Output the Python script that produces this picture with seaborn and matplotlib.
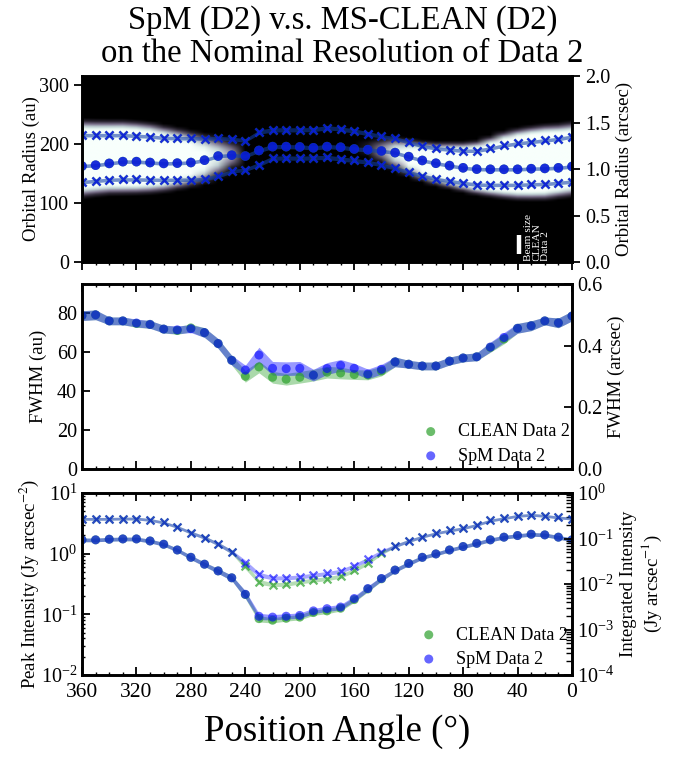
import numpy as np
import pandas as pd
import matplotlib
matplotlib.use("Agg")
import matplotlib.pyplot as plt
import seaborn as sns
from matplotlib.colors import LinearSegmentedColormap, Normalize
from matplotlib.ticker import MultipleLocator, LogLocator, NullFormatter

# ---------------- data ----------------
pa = [360, 350, 340, 330, 320, 310, 300, 290, 280, 270, 260, 250, 240, 230, 220, 210,
      200, 190, 180, 170, 160, 150, 140, 130, 120, 110, 100, 90, 80, 70, 60, 50, 40,
      30, 20, 10, 0]

# orbital radius (au): peak and half-maximum edges
radius_peak = [163, 164.5, 167.5, 170.5, 170.5, 169, 167.5, 168, 169, 173, 180, 181.5,
               180, 189.5, 196, 196, 195.5, 194, 196, 195, 192, 190.8, 188.6, 185.8,
               179, 172.5, 167.8, 163.8, 160, 157.8, 157.5, 157.5, 157.5, 158.5, 159,
               160, 162.3]
radius_outer = [215.5, 215.5, 215.5, 215.5, 214.3, 213.2, 210.9, 210.3, 210.3, 209.8,
                210.3, 209.2, 206.4, 220.5, 224.5, 224.5, 224.5, 225, 228, 226, 222.5,
                218, 213.5, 210, 203.5, 197, 193, 191, 189, 189, 193, 198, 201.5, 204,
                206.5, 209, 213]
radius_inner = [135.8, 137.8, 139.8, 140.2, 140.2, 139.8, 139.5, 139.8, 139.8, 141, 146,
                154, 156.8, 165.5, 176.3, 176.8, 176.3, 177, 177.8, 175, 172.5, 169.5,
                165, 159.5, 152.5, 146.5, 141, 137.5, 134.3, 131.5, 131, 131, 131, 132,
                132.5, 134.5, 136.5]
radius_err = [3, 3, 3, 3, 3, 3, 3, 3, 3, 3, 3, 3, 3, 3.5, 3.5, 3.5, 3.5, 3.5, 3.5, 3.5,
              3.5, 3.5, 3, 3, 3, 3, 3, 3, 3, 3, 3, 3, 3, 3, 3, 3, 3]

# FWHM (au)
fwhm_spm = [78.6, 79, 75.9, 75.9, 74.8, 74.1, 71.7, 71.3, 71.9, 69.9, 64.3, 55.7, 50.7,
            58.4, 51.6, 51.4, 51.6, 48.1, 51.5, 53.1, 51.6, 48.7, 51.1, 54.9, 53.7, 52.8,
            52.8, 55.3, 56.9, 57.5, 62.5, 67.4, 72.1, 73.4, 75.9, 74.9, 78.4]
fwhm_clean = [78.6, 79, 75.9, 75.9, 74.6, 74.1, 71.7, 71.0, 72.3, 69.9, 64.3, 55.7, 47.5,
              52.3, 47.0, 46.0, 47.0, 48.1, 49.6, 49.2, 48.4, 48.2, 50.2, 54.9, 53.7,
              52.8, 52.8, 55.3, 56.9, 57.5, 62.3, 66.6, 72.1, 73.4, 75.9, 74.9, 78.4]
fwhm_err_spm = [2.5, 2.5, 2, 2, 2, 2, 2, 2, 2, 2.5, 2.5, 2.5, 2.5, 4, 3.5, 3.5, 3.5, 3,
                3, 3, 2.5, 2.5, 2.5, 2.5, 2, 2, 2, 2, 2, 2, 2.5, 2.5, 2.5, 2.5, 2, 2.5, 2.5]
fwhm_err_clean = [2.5, 2.5, 2, 2, 2, 2, 2, 2, 2, 2.5, 2.5, 2.5, 3, 3, 3, 3, 3, 3, 3, 3,
                  2.5, 2.5, 2.5, 2.5, 2, 2, 2, 2, 2, 2, 2.5, 2.5, 2.5, 2.5, 2, 2.5, 2.5]

# peak intensity (Jy arcsec^-2)
peak_spm = [1.69, 1.69, 1.73, 1.75, 1.75, 1.62, 1.43, 1.15, 0.87, 0.67, 0.52, 0.40,
            0.214, 0.093, 0.090, 0.093, 0.096, 0.114, 0.124, 0.132, 0.182, 0.266, 0.39,
            0.536, 0.69, 0.87, 0.99, 1.15, 1.31, 1.48, 1.69, 1.87, 1.99, 2.09, 2.04,
            1.87, 1.69]
peak_clean = [1.69, 1.69, 1.73, 1.75, 1.75, 1.62, 1.43, 1.15, 0.87, 0.67, 0.52, 0.40,
              0.212, 0.085, 0.080, 0.086, 0.090, 0.107, 0.114, 0.126, 0.175, 0.262, 0.385,
              0.536, 0.69, 0.87, 0.99, 1.15, 1.31, 1.48, 1.69, 1.87, 1.99, 2.09, 2.04,
              1.87, 1.69]
# integrated intensity (Jy arcsec^-1)
integ_spm = [0.271, 0.271, 0.271, 0.275, 0.275, 0.257, 0.225, 0.180, 0.135, 0.105,
             0.076, 0.051, 0.0294, 0.0162, 0.0137, 0.0137, 0.0144, 0.0157, 0.0171,
             0.0192, 0.0252, 0.0354, 0.0514, 0.0686, 0.0885, 0.110, 0.131, 0.150, 0.169,
             0.200, 0.249, 0.280, 0.316, 0.332, 0.316, 0.290, 0.275]
integ_clean = [0.271, 0.271, 0.271, 0.275, 0.275, 0.257, 0.225, 0.180, 0.135, 0.105,
               0.076, 0.051, 0.0248, 0.0112, 0.00975, 0.0099, 0.0112, 0.0122, 0.0132,
               0.0149, 0.0202, 0.0294, 0.048, 0.0686, 0.0885, 0.110, 0.131, 0.150, 0.169,
               0.200, 0.249, 0.280, 0.316, 0.332, 0.316, 0.290, 0.275]
peak_relerr = [0.07, 0.07, 0.07, 0.07, 0.07, 0.07, 0.07, 0.07, 0.08, 0.08, 0.09, 0.1,
               0.14, 0.12, 0.1, 0.1, 0.1, 0.1, 0.1, 0.1, 0.1, 0.1, 0.09, 0.08, 0.08, 0.07,
               0.07, 0.07, 0.07, 0.07, 0.07, 0.07, 0.07, 0.07, 0.07, 0.07, 0.07]
integ_relerr = [0.07, 0.07, 0.07, 0.07, 0.07, 0.07, 0.07, 0.07, 0.08, 0.08, 0.09, 0.1,
                0.14, 0.12, 0.1, 0.1, 0.1, 0.1, 0.1, 0.1, 0.1, 0.1, 0.09, 0.08, 0.08,
                0.07, 0.07, 0.07, 0.07, 0.07, 0.07, 0.07, 0.07, 0.07, 0.07, 0.07, 0.07]

xticks = [360, 320, 280, 240, 200, 160, 120, 80, 40, 0]
DIST = 158.0  # au per arcsec
title = "SpM (D2) v.s. MS-CLEAN (D2)\non the Nominal Resolution of Data 2"

# ---------------- style ----------------
sns.set_theme(style="ticks")
plt.rcParams["font.family"] = ["Liberation Serif", "DejaVu Serif"]
plt.rcParams["mathtext.fontset"] = "stix"
for k in ["text.color", "axes.labelcolor", "xtick.color", "ytick.color", "axes.edgecolor"]:
    plt.rcParams[k] = "black"
plt.rcParams["axes.linewidth"] = 1.9
plt.rcParams["xtick.major.width"] = 1.3
plt.rcParams["ytick.major.width"] = 1.3
plt.rcParams["xtick.minor.width"] = 1.0
plt.rcParams["ytick.minor.width"] = 1.0
plt.rcParams["legend.handlelength"] = 1.6

C_CLEAN = "#2ca02c"
C_SPM = "#0000ff"
YTICK_FS = 14.5
XTICK_FS = 15.5
LAB_FS = 13.5

df = pd.DataFrame({
    "pa": pa, "r_peak": radius_peak, "r_out": radius_outer, "r_in": radius_inner,
    "r_err": radius_err, "fwhm_spm": fwhm_spm, "fwhm_clean": fwhm_clean,
    "fe_spm": fwhm_err_spm, "fe_clean": fwhm_err_clean,
    "peak_spm": peak_spm, "peak_clean": peak_clean,
    "int_spm": integ_spm, "int_clean": integ_clean,
    "pe": peak_relerr, "ie": integ_relerr,
})

fig = plt.figure(figsize=(6.85, 7.6), dpi=100)
L, R = 82 / 685, 572 / 685
W = R - L


def frac(top, bot):
    return [L, 1 - bot / 760, W, (bot - top) / 760]


ax1 = fig.add_axes(frac(76, 262))
ax2 = fig.add_axes(frac(284, 469), sharex=ax1)
ax3 = fig.add_axes(frac(493, 675), sharex=ax1)

# ---------------- top panel: radial image ----------------
r_grid = np.arange(0, 2.0 * DIST + 1, 1.0)
mid = (df["r_out"].values + df["r_in"].values) / 2
wid = df["r_out"].values - df["r_in"].values
img = df["peak_clean"].values[None, :] * np.exp(
    -4 * np.log(2) * (r_grid[:, None] - mid[None, :]) ** 2 / wid[None, :] ** 2)
cmap = LinearSegmentedColormap.from_list(
    "ring", ["#000000", "#2e2836", "#7f7590", "#bccbd0", "#e3f3ee", "#f8fffc"])
ax1.imshow(img, origin="lower", aspect="auto", cmap=cmap,
           norm=Normalize(0.2, 0.62), interpolation="bilinear",
           extent=[365, -5, r_grid[0], r_grid[-1]])


def band(ax, x, lo, hi, color, alpha=0.4):
    ax.fill_between(x, lo, hi, color=color, alpha=alpha, lw=0)


for key in ["r_in", "r_out", "r_peak"]:
    band(ax1, df["pa"], df[key] - df["r_err"], df[key] + df["r_err"], C_CLEAN, 0.35)
    band(ax1, df["pa"], df[key] - df["r_err"], df[key] + df["r_err"], C_SPM, 0.35)

for key in ["r_in", "r_out"]:
    sns.scatterplot(data=df, x="pa", y=key, ax=ax1, marker="x", s=34, linewidth=1.7,
                    color=C_CLEAN, alpha=0.7, legend=False)
    sns.scatterplot(data=df, x="pa", y=key, ax=ax1, marker="x", s=34, linewidth=1.7,
                    color=C_SPM, alpha=0.75, legend=False)
sns.scatterplot(data=df, x="pa", y="r_peak", ax=ax1, marker="o", s=48, edgecolor="none",
                color=C_CLEAN, alpha=0.7, legend=False)
sns.scatterplot(data=df, x="pa", y="r_peak", ax=ax1, marker="o", s=48, edgecolor="none",
                color=C_SPM, alpha=0.75, legend=False)

# beam size marker
ax1.plot([39, 39], [13, 46], color="white", lw=3.2, solid_capstyle="butt")
ax1.text(25.5, 2, "Beam size\nCLEAN\nData 2", color="white", rotation=90, fontsize=8.2,
         ha="center", va="bottom", multialignment="left", linespacing=0.9)

ax1.set_xlim(360, 0)
ax1.set_ylim(0, 2.0 * DIST)
ax1.set_yticks([0, 100, 200, 300])
ax1.set_ylabel("Orbital Radius (au)", fontsize=LAB_FS, labelpad=-1)
ax1.set_xlabel("")
ax1.tick_params(axis="y", labelsize=YTICK_FS)
ax1.tick_params(labelbottom=False, direction="out")
ax1.xaxis.set_minor_locator(MultipleLocator(10))
ax1.tick_params(which="minor", direction="out", length=2.5)
ax1r = ax1.twinx()
ax1r.set_ylim(0, 2.0)
ax1r.set_yticks([0, 0.5, 1.0, 1.5, 2.0])
ax1r.set_yticklabels(["0.0", "0.5", "1.0", "1.5", "2.0"])
ax1r.set_ylabel("Orbital Radius (arcsec)", fontsize=LAB_FS)
ax1r.tick_params(labelsize=YTICK_FS, direction="out")

# ---------------- middle panel: FWHM ----------------
band(ax2, df["pa"], df["fwhm_clean"] - df["fe_clean"], df["fwhm_clean"] + df["fe_clean"], C_CLEAN)
band(ax2, df["pa"], df["fwhm_spm"] - df["fe_spm"], df["fwhm_spm"] + df["fe_spm"], C_SPM)
sns.scatterplot(data=df, x="pa", y="fwhm_clean", ax=ax2, marker="o", s=42,
                edgecolor="none", color=C_CLEAN, alpha=0.7, label="CLEAN Data 2")
sns.scatterplot(data=df, x="pa", y="fwhm_spm", ax=ax2, marker="o", s=42,
                edgecolor="none", color=C_SPM, alpha=0.6, label="SpM Data 2")
ax2.set_ylim(0, 0.6 * DIST)
ax2.set_yticks([0, 20, 40, 60, 80])
ax2.set_ylabel("FWHM (au)", fontsize=LAB_FS, labelpad=7)
ax2.set_xlabel("")
ax2.tick_params(axis="y", labelsize=YTICK_FS)
ax2.tick_params(labelbottom=False, direction="in", top=True)
ax2.tick_params(which="minor", direction="in", top=True, length=2.5)
h2, l2 = ax2.get_legend_handles_labels()
ax2.get_legend().remove()
ax2r = ax2.twinx()
ax2r.set_ylim(0, 0.6)
ax2r.set_yticks([0, 0.2, 0.4, 0.6])
ax2r.set_yticklabels(["0.0", "0.2", "0.4", "0.6"])
ax2r.set_ylabel("FWHM (arcsec)", fontsize=LAB_FS)
ax2r.tick_params(labelsize=YTICK_FS, direction="in")
ax2r.legend(h2, l2, loc="lower right", bbox_to_anchor=(1.01, -0.015), frameon=False,
            fontsize=13, handletextpad=0.7, borderaxespad=0.0, labelspacing=0.4)

# ---------------- bottom panel: intensities ----------------
ax3r = ax3.twinx()
ax3.set_yscale("log")
ax3r.set_yscale("log")
band(ax3, df["pa"], df["peak_clean"] * (1 - df["pe"]), df["peak_clean"] * (1 + df["pe"]), C_CLEAN)
band(ax3, df["pa"], df["peak_spm"] * (1 - df["pe"]), df["peak_spm"] * (1 + df["pe"]), C_SPM)
band(ax3r, df["pa"], df["int_clean"] * (1 - df["ie"]), df["int_clean"] * (1 + df["ie"]), C_CLEAN, 0.35)
band(ax3r, df["pa"], df["int_spm"] * (1 - df["ie"]), df["int_spm"] * (1 + df["ie"]), C_SPM, 0.35)
sns.scatterplot(data=df, x="pa", y="peak_clean", ax=ax3, marker="o", s=42,
                edgecolor="none", color=C_CLEAN, alpha=0.7, label="CLEAN Data 2")
sns.scatterplot(data=df, x="pa", y="peak_spm", ax=ax3, marker="o", s=42,
                edgecolor="none", color=C_SPM, alpha=0.6, label="SpM Data 2")
sns.scatterplot(data=df, x="pa", y="int_clean", ax=ax3r, marker="x", s=32, linewidth=1.6,
                color=C_CLEAN, alpha=0.7, legend=False)
sns.scatterplot(data=df, x="pa", y="int_spm", ax=ax3r, marker="x", s=32, linewidth=1.6,
                color=C_SPM, alpha=0.6, legend=False)
ax3.set_ylim(1e-2, 1e1)
ax3r.set_ylim(1e-4, 1e0)
ax3.set_ylabel("Peak Intensity (Jy arcsec$^{-2}$)", fontsize=LAB_FS, labelpad=0)
ax3r.set_ylabel("Integrated Intensity\n(Jy arcsec$^{-1}$)", fontsize=LAB_FS)
ax3.set_xlabel("")
ax3r.set_xlabel("")
ax3.set_xticks(xticks)
ax3.set_xticklabels([str(t) for t in xticks])
ax3.xaxis.set_minor_locator(MultipleLocator(10))
ax3.tick_params(axis="y", labelsize=YTICK_FS)
ax3.tick_params(axis="x", labelsize=XTICK_FS, pad=6)
ax3.tick_params(direction="in", top=True)
ax3.tick_params(which="minor", direction="in", top=True, length=2.5)
ax3r.tick_params(labelsize=YTICK_FS, direction="in")
ax3r.tick_params(which="minor", direction="in")
for a in (ax3, ax3r):
    a.yaxis.set_minor_locator(LogLocator(base=10, subs=np.arange(2, 10), numticks=20))
    a.yaxis.set_minor_formatter(NullFormatter())
h3, l3 = ax3.get_legend_handles_labels()
ax3.get_legend().remove()
ax3r.legend(h3, l3, loc="lower right", bbox_to_anchor=(1.006, 0.0), frameon=False,
            fontsize=13, handletextpad=0.7, borderaxespad=0.0, labelspacing=0.4)

for a in (ax1, ax2, ax3):
    a.xaxis.set_major_locator(MultipleLocator(40))
    a.set_xlim(360, 0)

fig.suptitle(title, fontsize=23.5, y=0.993, va="top", linespacing=1.1)
fig.text(337 / 685, 0.037, "Position Angle (°)", ha="center", va="center", fontsize=26.5)

fig.savefig("out.png", dpi=100)
